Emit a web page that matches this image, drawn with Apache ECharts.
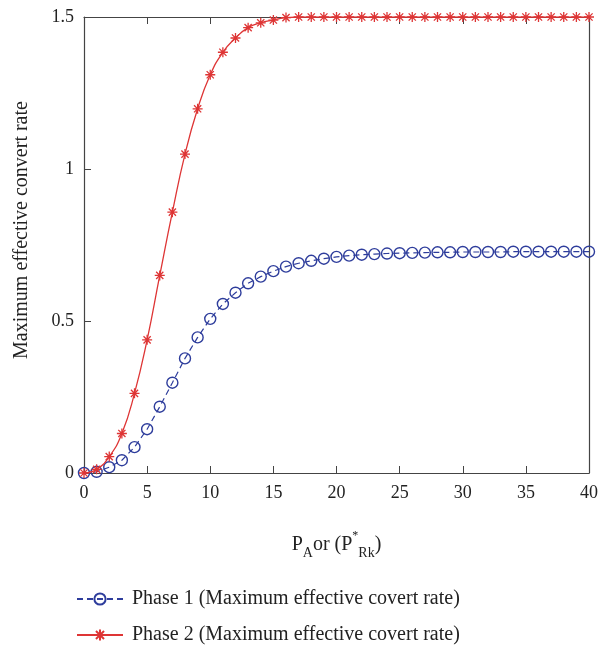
<!DOCTYPE html>
<html>
<head>
<meta charset="utf-8">
<script src="https://cdn.jsdelivr.net/npm/echarts@6/dist/echarts.min.js"></script>
<style>html,body{margin:0;padding:0;background:#fff}#c{width:599px;height:650px}</style>
</head>
<body>
<div id="c"></div>
<script>
const xValues = [0,1,2,3,4,5,6,7,8,9,10,11,12,13,14,15,16,17,18,19,20,21,22,23,24,25,26,27,28,29,30,31,32,33,34,35,36,37,38,39,40];
const phase1 = [0,0.004,0.019,0.042,0.085,0.144,0.218,0.297,0.377,0.446,0.507,0.556,0.593,0.624,0.646,0.664,0.679,0.690,0.698,0.705,0.711,0.715,0.718,0.720,0.722,0.723,0.724,0.725,0.726,0.726,0.727,0.727,0.727,0.727,0.728,0.728,0.728,0.728,0.728,0.728,0.728];
const phase2 = [0,0.012,0.054,0.130,0.262,0.438,0.650,0.858,1.049,1.198,1.310,1.384,1.431,1.465,1.481,1.490,1.498,1.5,1.5,1.5,1.5,1.5,1.5,1.5,1.5,1.5,1.5,1.5,1.5,1.5,1.5,1.5,1.5,1.5,1.5,1.5,1.5,1.5,1.5,1.5,1.5];
const seriesNames = ['Phase 1 (Maximum effective covert rate)', 'Phase 2 (Maximum effective covert rate)'];
const yAxisName = 'Maximum effective convert rate';

const font = '"Liberation Serif", "DejaVu Serif", serif';
const axisColor = '#444';
const blue = '#2e3d9c';
const red = '#de3535';
const star = 'path://M0,-5L0,5M-5,0L5,0M-3.6,-3.6L3.6,3.6M-3.6,3.6L3.6,-3.6';

const chart = echarts.init(document.getElementById('c'));
chart.setOption({
  animation: false,
  backgroundColor: '#fff',
  grid: {left: 84, right: 10, top: 17, bottom: 177, outerBoundsMode: 'none', containLabel: false},
  legend: {
    orient: 'vertical', left: 76, top: 589, padding: 0, itemWidth: 46, itemHeight: 14, itemGap: 16,
    textStyle: {fontFamily: font, fontSize: 20, color: '#222', padding: [0,0,0,4]},
    data: seriesNames
  },
  xAxis: [{
    type: 'value', min: 0, max: 40, interval: 5,
    axisLine: {show: true, onZero: false, lineStyle: {color: axisColor, width: 1.2}},
    axisTick: {show: true, inside: true, length: 7, lineStyle: {color: axisColor}},
    axisLabel: {fontFamily: font, fontSize: 18, color: '#222', margin: 11},
    splitLine: {show: false},
    name: '{p|P}{sub|A}{p|or (P}{sup|*}{sub|Rk}{p|)}',
    nameLocation: 'middle', nameGap: 57,
    nameTextStyle: {
      rich: {
        p: {fontFamily: font, fontSize: 20, color: '#222', lineHeight: 30},
        sub: {fontFamily: font, fontSize: 14, color: '#222', lineHeight: 14, verticalAlign: 'bottom'},
        sup: {fontFamily: font, fontSize: 12, color: '#222', lineHeight: 12, verticalAlign: 'top'}
      }
    }
  }, {
    type: 'value', min: 0, max: 40, interval: 5, position: 'top',
    axisLine: {show: true, onZero: false, lineStyle: {color: axisColor, width: 1.2}},
    axisTick: {show: true, inside: true, length: 7, lineStyle: {color: axisColor}},
    axisLabel: {show: false}, splitLine: {show: false}
  }],
  yAxis: [{
    type: 'value', min: 0, max: 1.5, interval: 0.5,
    axisLine: {show: true, onZero: false, lineStyle: {color: axisColor, width: 1.2}},
    axisTick: {show: true, inside: true, length: 7, lineStyle: {color: axisColor}},
    axisLabel: {fontFamily: font, fontSize: 18, color: '#222', margin: 10},
    splitLine: {show: false},
    name: yAxisName, nameLocation: 'middle', nameGap: 52,
    nameTextStyle: {fontFamily: font, fontSize: 20, color: '#222', padding: [0, 0, 0, 30]}
  }, {
    type: 'value', min: 0, max: 1.5, interval: 0.5, position: 'right',
    axisLine: {show: true, onZero: false, lineStyle: {color: axisColor, width: 1.2}},
    axisTick: {show: false}, axisLabel: {show: false}, splitLine: {show: false}
  }],
  series: [{
    name: seriesNames[0], type: 'line',
    data: xValues.map((x, i) => [x, phase1[i]]),
    symbol: 'circle', symbolSize: 11,
    itemStyle: {color: 'rgba(255,255,255,0)', borderColor: blue, borderWidth: 1.4},
    lineStyle: {color: blue, width: 1.2, type: [6, 4]},
    z: 3
  }, {
    name: seriesNames[1], type: 'line',
    data: xValues.map((x, i) => [x, phase2[i]]),
    symbol: star, symbolSize: 10,
    smooth: 0.5,
    itemStyle: {color: 'rgba(255,255,255,0)', borderColor: red, borderWidth: 1.3},
    lineStyle: {color: red, width: 1.3},
    z: 4
  }]
});
</script>
</body>
</html>
